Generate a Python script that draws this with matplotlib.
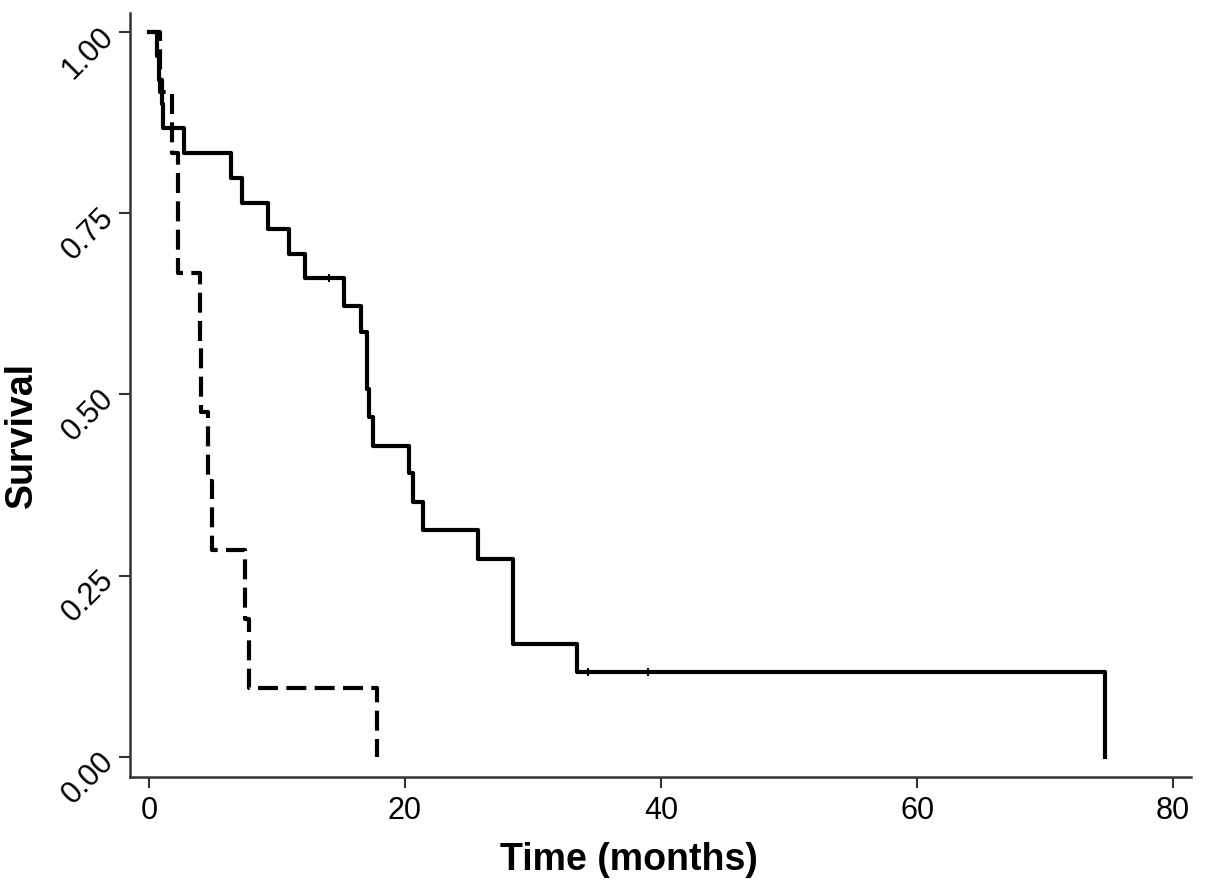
import matplotlib.pyplot as plt

plt.rcParams['font.family'] = ['Liberation Sans', 'DejaVu Sans']

# solid group: step times (months) and survival after each step
solid_time = [0, 0.6, 0.75, 1.0, 1.1, 2.7, 6.4, 7.3, 9.3, 10.9, 12.2, 15.2, 16.6, 17.0, 17.05,
              17.2, 17.5, 20.3, 20.6, 21.4, 25.7, 28.4, 33.4, 74.7]
solid_surv = [1.0, 0.967, 0.933, 0.9, 0.868, 0.833, 0.798, 0.764, 0.728, 0.694, 0.660, 0.622,
              0.586, 0.546, 0.508, 0.469, 0.429, 0.392, 0.352, 0.313, 0.273, 0.156, 0.117, 0.0]
solid_cens_time = [14.1, 34.3, 39.0]
solid_cens_surv = [0.660, 0.117, 0.117]

# dashed group
dash_time = [0, 0.9, 1.8, 2.3, 4.0, 4.05, 4.6, 4.9, 7.5, 7.8, 17.8]
dash_surv = [1.0, 0.917, 0.833, 0.667, 0.571, 0.476, 0.381, 0.286, 0.190, 0.095, 0.0]

x_ticks = [0, 20, 40, 60, 80]
y_ticks = [0.0, 0.25, 0.5, 0.75, 1.0]
y_ticklabels = ['0.00', '0.25', '0.50', '0.75', '1.00']

fig = plt.figure(figsize=(12.05, 8.94), dpi=100)
ax = fig.add_axes([0.1079, 0.1309, 0.8805, 0.8546])

ax.step(dash_time, dash_surv, where='post', color='black', lw=3, dashes=(4.8, 2.0),
        solid_capstyle='butt')
ax.step(solid_time, solid_surv, where='post', color='black', lw=3)
ax.plot(solid_cens_time, solid_cens_surv, ls='none', marker='|', ms=6, mew=1.5, color='black')

ax.set_xlim(-1.48, 81.4)
ax.set_ylim(-0.0276, 1.026)
ax.set_xticks(x_ticks)
ax.set_yticks(y_ticks)
ax.set_yticklabels(y_ticklabels, rotation=45, ha='right', va='center', rotation_mode='anchor')

for s in ['top', 'right']:
    ax.spines[s].set_visible(False)
for s in ['left', 'bottom']:
    ax.spines[s].set_color('#333333')
    ax.spines[s].set_linewidth(1.8)

ax.tick_params(axis='both', direction='out', length=8, width=1.5, color='#333333',
               labelsize=22, pad=5)
ax.tick_params(axis='y', pad=7)
ax.tick_params(axis='x', pad=6)

ax.set_xlabel('Time (months)', fontsize=27, fontweight='bold')
ax.set_ylabel('Survival', fontsize=27, fontweight='bold')
ax.xaxis.set_label_coords(0.470, -0.085)
ax.yaxis.set_label_coords(-0.0845, 0.448)

fig.savefig('out.png', dpi=100)
